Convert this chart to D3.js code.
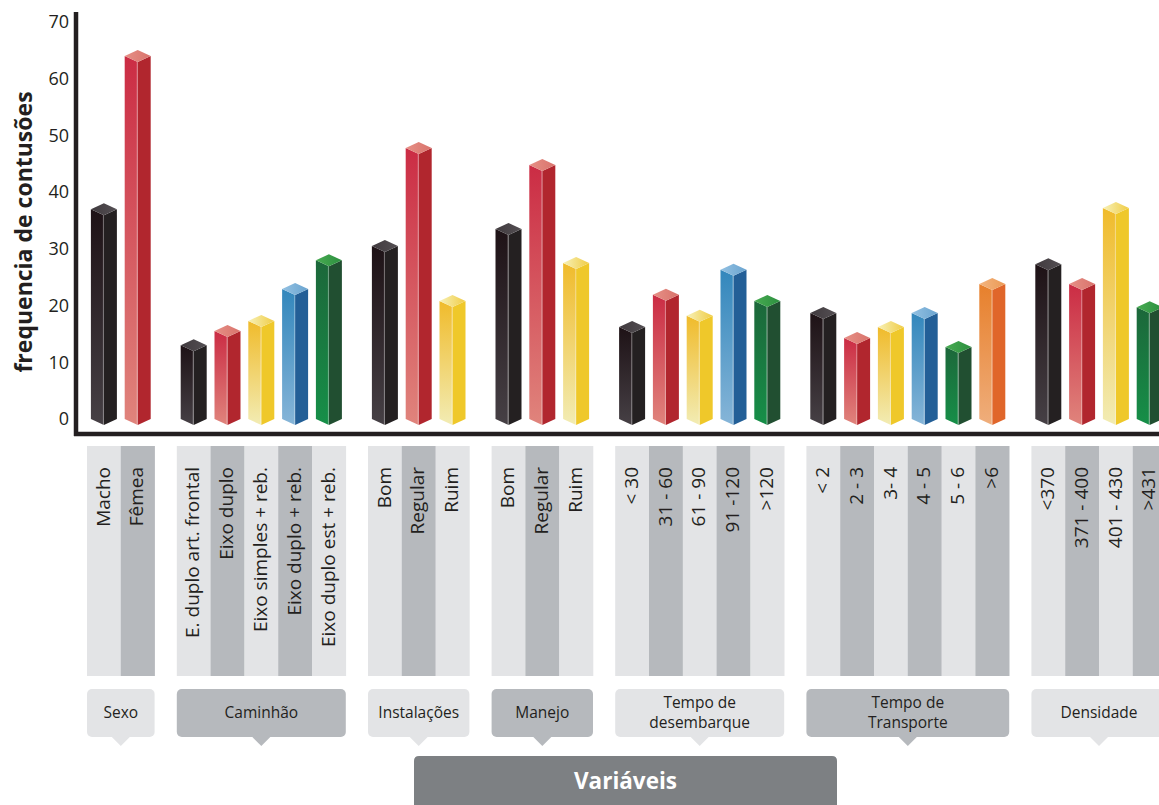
<!DOCTYPE html>
<html>
<head>
<meta charset="utf-8">
<script src="https://cdn.jsdelivr.net/npm/d3@7"></script>
<style>
  html, body { margin: 0; padding: 0; background: #ffffff; }
  svg { display: block; }
  text { font-family: "Open Sans", "Noto Sans", sans-serif; fill: #231f20; }
</style>
</head>
<body>
<svg id="chart" width="1159" height="805"></svg>
<script>
// ---- data ----
const groups = ["Sexo", "Caminhão", "Instalações", "Manejo", "Tempo de desembarque", "Tempo de Transporte", "Densidade"];
const groupLines = [["Sexo"], ["Caminhão"], ["Instalações"], ["Manejo"], ["Tempo de", "desembarque"], ["Tempo de", "Transporte"], ["Densidade"]];

const sexoLabels = ["Macho", "Fêmea"];
const sexoValues = [37, 64];
const sexoColors = ["black", "red"];

const caminhaoLabels = ["E. duplo art. frontal", "Eixo duplo", "Eixo simples + reb.", "Eixo duplo + reb.", "Eixo duplo est + reb."];
const caminhaoValues = [13, 15.5, 17.3, 22.9, 28];
const caminhaoColors = ["black", "red", "yellow", "blue", "green"];

const instalacoesLabels = ["Bom", "Regular", "Ruim"];
const instalacoesValues = [30.5, 47.8, 20.8];
const instalacoesColors = ["black", "red", "yellow"];

const manejoLabels = ["Bom", "Regular", "Ruim"];
const manejoValues = [33.5, 44.8, 27.5];
const manejoColors = ["black", "red", "yellow"];

const desembarqueLabels = ["< 30", "31 - 60", "61 - 90", "91 -120", ">120"];
const desembarqueValues = [16.2, 21.9, 18.2, 26.3, 20.8];
const desembarqueColors = ["black", "red", "yellow", "blue", "green"];

const transporteLabels = ["< 2", "2 - 3", "3- 4", "4 - 5", "5 - 6", ">6"];
const transporteValues = [18.7, 14.3, 16.2, 18.7, 12.7, 23.8];
const transporteColors = ["black", "red", "yellow", "blue", "green", "orange"];

const densidadeLabels = ["<370", "371 - 400", "401 - 430", ">431"];
const densidadeValues = [27.3, 23.8, 37.2, 19.7];
const densidadeColors = ["black", "red", "yellow", "green"];

const yTicks = [0, 10, 20, 30, 40, 50, 60, 70];
const yTitle = "frequencia de contusões";
const xTitle = "Variáveis";

// ---- palette: [left face top, left face bottom], right face, [top face a, top face b]
const palette = {
  black:  { left: ["#1e1216", "#464045"], right: "#242021", top: ["#403a3e", "#544f53"] },
  red:    { left: ["#cb2c44", "#e0847c"], right: "#b1262e", top: ["#e69086", "#d9736c"] },
  yellow: { left: ["#f0bb2b", "#f2ecb4"], right: "#efc82a", top: ["#f7f1b8", "#f0cc45"] },
  blue:   { left: ["#3387bc", "#86b5d8"], right: "#235f97", top: ["#93c1e2", "#6aa4d0"] },
  green:  { left: ["#1c673a", "#168f48"], right: "#214f31", top: ["#48ab52", "#2c8f3f"] },
  orange: { left: ["#e7802c", "#efae7c"], right: "#e0662a", top: ["#f3b47e", "#eb9a55"] }
};

// ---- assemble rows ----
const groupData = [
  [sexoLabels, sexoValues, sexoColors],
  [caminhaoLabels, caminhaoValues, caminhaoColors],
  [instalacoesLabels, instalacoesValues, instalacoesColors],
  [manejoLabels, manejoValues, manejoColors],
  [desembarqueLabels, desembarqueValues, desembarqueColors],
  [transporteLabels, transporteValues, transporteColors],
  [densidadeLabels, densidadeValues, densidadeColors]
];
const gapRatio = 22.2 / 33.8; // space between groups, in strip widths
const rows = [];
let idx = 0;
groupData.forEach(([labels, values, colors], g) => {
  labels.forEach((lab, i) => {
    rows.push({ group: g, label: lab, value: values[i], color: colors[i], slot: idx + g * gapRatio, k: i });
    idx++;
  });
});

// ---- scales ----
const svg = d3.select("#chart");
const stripW = 33.8;
const x = d3.scaleLinear().domain([0, 1]).range([87, 87 + stripW]);
const y = d3.scaleLinear().domain([0, 70]).range([419, 22]);
const half = 13, rise = 6;

// ---- gradients ----
const defs = svg.append("defs");
Object.entries(palette).forEach(([name, p]) => {
  const gl = defs.append("linearGradient").attr("id", "left-" + name)
    .attr("x1", 0).attr("y1", 0).attr("x2", 0).attr("y2", 1);
  gl.append("stop").attr("offset", "0%").attr("stop-color", p.left[0]);
  gl.append("stop").attr("offset", "100%").attr("stop-color", p.left[1]);
  const gt = defs.append("linearGradient").attr("id", "top-" + name)
    .attr("x1", 0).attr("y1", 0).attr("x2", 1).attr("y2", 0);
  gt.append("stop").attr("offset", "0%").attr("stop-color", p.top[0]);
  gt.append("stop").attr("offset", "100%").attr("stop-color", p.top[1]);
});

// ---- category strips ----
const strips = svg.append("g");
strips.selectAll("rect").data(rows).join("rect")
  .attr("x", d => x(d.slot))
  .attr("y", 446)
  .attr("width", x(1) - x(0) + 0.3)
  .attr("height", 230)
  .attr("fill", d => d.k % 2 === 0 ? "#e3e4e6" : "#b6b9bd");

strips.selectAll("text").data(rows).join("text")
  .attr("transform", d => `translate(${x(d.slot + 0.5)},467) rotate(-90)`)
  .attr("text-anchor", "end")
  .attr("dy", "0.3em")
  .style("font-size", "19px")
  .text(d => d.label);

// ---- bars ----
const bars = svg.append("g");
const barG = bars.selectAll("g").data(rows).join("g");
// left face
barG.append("path")
  .attr("fill", d => `url(#left-${d.color})`)
  .attr("d", d => {
    const cx = x(d.slot + 0.5), t = y(d.value), b = y(0);
    return `M${cx - half},${t}L${cx},${t + rise}L${cx},${b + rise}L${cx - half},${b}Z`;
  });
// right face
barG.append("path")
  .attr("fill", d => palette[d.color].right)
  .attr("d", d => {
    const cx = x(d.slot + 0.5), t = y(d.value), b = y(0);
    return `M${cx},${t + rise}L${cx + half},${t}L${cx + half},${b}L${cx},${b + rise}Z`;
  });
// top face
barG.append("path")
  .attr("fill", d => `url(#top-${d.color})`)
  .attr("d", d => {
    const cx = x(d.slot + 0.5), t = y(d.value);
    return `M${cx - half},${t}L${cx},${t - rise}L${cx + half},${t}L${cx},${t + rise}Z`;
  });
// ridge highlight
barG.append("line")
  .attr("x1", d => x(d.slot + 0.5) - 0.5).attr("x2", d => x(d.slot + 0.5) - 0.5)
  .attr("y1", d => y(d.value) + rise).attr("y2", d => y(0) + rise)
  .attr("stroke", "#ffffff").attr("stroke-opacity", 0.35).attr("stroke-width", 1);

// ---- axes ----
const axisG = svg.append("g");
axisG.append("line").attr("x1", 76).attr("x2", 76).attr("y1", 12).attr("y2", 436)
  .attr("stroke", "#231f20").attr("stroke-width", 4.5);
axisG.append("line").attr("x1", 74).attr("x2", 1159).attr("y1", 434).attr("y2", 434)
  .attr("stroke", "#231f20").attr("stroke-width", 4.5);

axisG.selectAll("text.tick").data(yTicks).join("text")
  .attr("class", "tick")
  .attr("x", 69)
  .attr("y", d => y(d))
  .attr("dy", "0.35em")
  .attr("text-anchor", "end")
  .style("font-size", "18px")
  .text(d => d);

svg.append("text")
  .attr("transform", "translate(24,232) rotate(-90)")
  .attr("text-anchor", "middle")
  .attr("dy", "0.35em")
  .style("font-size", "23px")
  .style("font-weight", "700")
  .text(yTitle);

// ---- group boxes ----
const extents = groups.map((name, g) => {
  const r = rows.filter(d => d.group === g);
  return { name, g, x0: x(r[0].slot), x1: x(r[r.length - 1].slot + 1) };
});
const boxes = svg.append("g");
const boxG = boxes.selectAll("g").data(extents).join("g");
boxG.append("rect")
  .attr("x", d => d.x0).attr("y", 689)
  .attr("width", d => d.x1 - d.x0).attr("height", 48)
  .attr("rx", 5)
  .attr("fill", d => d.g % 2 === 0 ? "#e3e4e6" : "#b6b9bd");
boxG.append("path")
  .attr("fill", d => d.g % 2 === 0 ? "#e3e4e6" : "#b6b9bd")
  .attr("d", d => {
    const c = (d.x0 + d.x1) / 2;
    return `M${c - 10},736L${c},746L${c + 10},736Z`;
  });
boxG.each(function (d) {
  const lines = groupLines[d.g];
  const c = (d.x0 + d.x1) / 2;
  const t = d3.select(this).append("text")
    .attr("text-anchor", "middle")
    .style("font-size", "15.5px");
  lines.forEach((ln, i) => {
    t.append("tspan")
      .attr("x", c)
      .attr("y", 713 + (i - (lines.length - 1) / 2) * 20)
      .attr("dy", "0.35em")
      .text(ln);
  });
});

// ---- x title ----
svg.append("path")
  .attr("fill", "#7d8083")
  .attr("d", "M414,805L414,761Q414,756 419,756L832,756Q837,756 837,761L837,805Z");
svg.append("text")
  .attr("x", 625.5).attr("y", 781)
  .attr("dy", "0.35em")
  .attr("text-anchor", "middle")
  .style("font-size", "22.5px")
  .style("font-weight", "700")
  .style("fill", "#ffffff")
  .text(xTitle);
</script>
</body>
</html>
